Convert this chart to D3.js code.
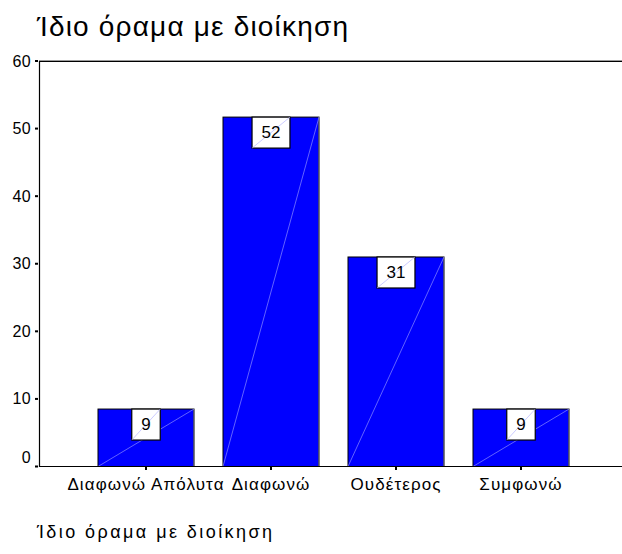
<!DOCTYPE html>
<html>
<head>
<meta charset="utf-8">
<script src="https://cdn.jsdelivr.net/npm/d3@7"></script>
<style>
  html, body { margin: 0; padding: 0; background: #fff; }
  svg { display: block; }
  text { font-family: Arial, "Liberation Sans", sans-serif; fill: #000; }
</style>
</head>
<body>
<svg id="chart" width="622" height="554"></svg>
<script>
// ---- data ----
const title = "Ίδιο όραμα με διοίκηση";
const categories = ["Διαφωνώ Απόλυτα", "Διαφωνώ", "Ουδέτερος", "Συμφωνώ"];
const values = [8.5, 51.7, 31.0, 8.5];
const yTicks = [0, 10, 20, 30, 40, 50, 60];

// ---- layout ----
const W = 622, H = 554;
const axisX = 39, plotTop = 61, plotBottom = 466.5, plotRight = 622;
const svg = d3.select("#chart");

const x = d3.scaleBand().domain(categories).range([83.5, 583.5])
  .paddingInner(0.232).paddingOuter(0.116);
const y = d3.scaleLinear().domain([0, 60]).range([plotBottom, plotTop]);

// title
svg.append("text").attr("x", 37).attr("y", 36)
  .attr("font-size", 28).attr("textLength", 311).attr("lengthAdjust", "spacing")
  .text(title);

// footer
svg.append("text").attr("x", 37).attr("y", 538)
  .attr("font-size", 18).attr("textLength", 235).attr("lengthAdjust", "spacing")
  .text(title);

// bars
const bars = svg.append("g");
categories.forEach((c, i) => {
  const x0 = x(c), bw = x.bandwidth(), yt = y(values[i]), yb = y(0);
  bars.append("rect").attr("x", x0).attr("y", yt).attr("width", bw).attr("height", yb - yt)
    .attr("fill", "#0000ff").attr("stroke", "#000").attr("stroke-width", 1);
  bars.append("line").attr("x1", x0 + bw).attr("x2", x0 + bw).attr("y1", yt).attr("y2", yb)
    .attr("stroke", "#808080").attr("stroke-width", 1);
  bars.append("line").attr("x1", x0).attr("y1", yb).attr("x2", x0 + bw).attr("y2", yt)
    .attr("stroke", "#8c8cff").attr("stroke-width", 0.7);
});

// value label boxes
const labs = svg.append("g");
categories.forEach((c, i) => {
  const cx = x(c) + x.bandwidth() / 2, yt = y(values[i]);
  const t = labs.append("text").attr("font-size", 17).attr("text-anchor", "middle")
    .attr("x", cx).attr("y", yt + 15.5).attr("dominant-baseline", "central")
    .text(String(Math.round(values[i])));
  const tw = t.node().getComputedTextLength();
  const bw = tw + 19, bh = 31;
  labs.insert("rect", () => t.node()).attr("x", cx - bw / 2).attr("y", yt).attr("width", bw).attr("height", bh)
    .attr("fill", "#fff").attr("stroke", "#000").attr("stroke-width", 1.2);
  labs.insert("line", () => t.node()).attr("x1", cx - bw / 2).attr("y1", yt + bh)
    .attr("x2", cx + bw / 2).attr("y2", yt)
    .attr("stroke", "#b4b4ff").attr("stroke-width", 0.7);
});

// frame lines
svg.append("line").attr("x1", axisX).attr("x2", plotRight).attr("y1", plotTop - 0.5).attr("y2", plotTop - 0.5)
  .attr("stroke", "#9a9a9a").attr("stroke-width", 1);
svg.append("line").attr("x1", axisX).attr("x2", plotRight).attr("y1", plotTop + 0.5).attr("y2", plotTop + 0.5)
  .attr("stroke", "#000").attr("stroke-width", 1);
svg.append("line").attr("x1", axisX + 0.5).attr("x2", axisX + 0.5).attr("y1", plotTop).attr("y2", plotBottom + 0.5)
  .attr("stroke", "#000").attr("stroke-width", 1.2);
svg.append("line").attr("x1", axisX).attr("x2", plotRight).attr("y1", plotBottom).attr("y2", plotBottom)
  .attr("stroke", "#000").attr("stroke-width", 1.2);

// y axis ticks & labels
const yg = svg.append("g");
yTicks.forEach(v => {
  yg.append("rect").attr("x", 35).attr("y", y(v) - 1).attr("width", 3).attr("height", 2).attr("fill", "#000");
  yg.append("text").attr("x", 31).attr("y", v === 0 ? y(v) - 9 : y(v))
    .attr("text-anchor", "end").attr("dominant-baseline", "central")
    .attr("font-size", 16).attr("letter-spacing", 0.3).text(v);
});

// x axis ticks & labels
const xg = svg.append("g");
categories.forEach(c => {
  const cx = x(c) + x.bandwidth() / 2;
  xg.append("rect").attr("x", cx - 1).attr("y", plotBottom).attr("width", 2).attr("height", 3.5).attr("fill", "#000");
  xg.append("text").attr("x", cx).attr("y", 490).attr("text-anchor", "middle")
    .attr("font-size", 17).attr("letter-spacing", 1.1).text(c);
});
</script>
</body>
</html>
